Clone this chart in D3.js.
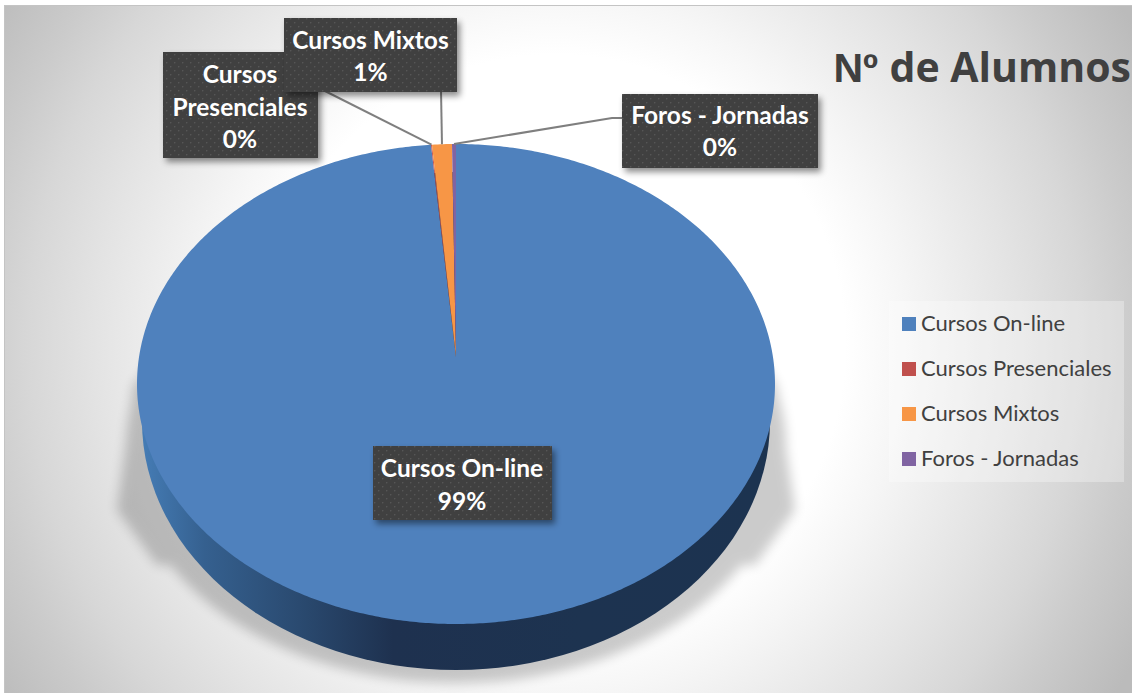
<!DOCTYPE html>
<html><head><meta charset="utf-8">
<script src="https://cdn.jsdelivr.net/npm/d3@7"></script>
<style>html,body{margin:0;padding:0;background:#fff}svg{display:block}text{font-family:Lato,"Open Sans",sans-serif}</style>
</head><body><div id="c"></div>
<script>
const categories = ["Cursos On-line","Cursos Presenciales","Cursos Mixtos","Foros - Jornadas"];
const alumnos = [1975,1,20,4];
const colors = ["#4f81bd","#c0504d","#f79646","#8064a2"];
const title = "de Alumnos";
const titlePrefix = "Nº ";

const W=1132,H=693;
const svg=d3.select("#c").append("svg").attr("width",W).attr("height",H);
const defs=svg.append("defs");
const bg=defs.append("radialGradient").attr("id","bg").attr("gradientUnits","userSpaceOnUse")
  .attr("cx",555).attr("cy",345).attr("r",660);
[[0,"#ffffff"],[.44,"#ffffff"],[.53,"#f6f6f6"],[.7,"#e3e3e3"],[.8,"#d7d7d7"],[.88,"#cbcbcb"],[1,"#bbbbbb"]].forEach(s=>bg.append("stop").attr("offset",s[0]).attr("stop-color",s[1]));
const side=defs.append("linearGradient").attr("id","side").attr("gradientUnits","userSpaceOnUse").attr("x1",142).attr("x2",770).attr("y1",0).attr("y2",0);
[[0,"#457cb5"],[.1,"#35608f"],[.25,"#2a4a70"],[.4,"#1e314f"],[.7,"#1d3350"],[1,"#1c3350"]].forEach(s=>side.append("stop").attr("offset",s[0]).attr("stop-color",s[1]));
const pat=defs.append("pattern").attr("id","dots").attr("patternUnits","userSpaceOnUse").attr("width",8).attr("height",8);
pat.append("rect").attr("width",8).attr("height",8).attr("fill","#3f3f3f");
pat.append("rect").attr("x",2).attr("y",2).attr("width",1.4).attr("height",1.4).attr("fill","#565656");
pat.append("rect").attr("x",6).attr("y",6).attr("width",1.4).attr("height",1.4).attr("fill","#565656");
const sh=defs.append("filter").attr("id","sh").attr("x","-20%").attr("y","-20%").attr("width","140%").attr("height","140%");
sh.append("feDropShadow").attr("dx",3).attr("dy",4).attr("stdDeviation",3).attr("flood-color","#000").attr("flood-opacity",.45);
const bl=defs.append("filter").attr("id","bl").attr("filterUnits","userSpaceOnUse").attr("x",0).attr("y",300).attr("width",W).attr("height",H-300);
bl.append("feGaussianBlur").attr("stdDeviation",6);

svg.append("rect").attr("x",4).attr("y",5).attr("width",W-4).attr("height",H-5).attr("fill","url(#bg)");
svg.append("path").attr("fill","none").attr("stroke","#c4c4c4").attr("d","M4.5,"+H+"V5.5H"+W);

const cx=456,cy=384,rx=319,ry=240,apexY=357;
const px=a=>cx+rx*Math.sin(a), py=a=>cy-ry*Math.cos(a);
const line=d3.line();

// ground shadow: wedge flaring from the pie's widest points, merged with an ellipse below
const shadow=svg.append("g").attr("filter","url(#bl)").attr("opacity",.2);
shadow.append("path").attr("d",line([[776,382],[795,510],[755,565],[157,565],[117,510],[134,382]])+"Z");
shadow.append("ellipse").attr("cx",cx).attr("cy",447).attr("rx",330).attr("ry",236);

// pie side: a narrower, lower ellipse behind the top face
svg.append("ellipse").attr("cx",cx).attr("cy",421).attr("rx",314).attr("ry",249).attr("fill","url(#side)");

// pie top
const arcs=d3.pie().sort(null)(alumnos);
svg.selectAll("path.slice").data(arcs).join("path").attr("class","slice")
  .attr("fill",(d,i)=>colors[i])
  .attr("d",d=>{
    const n=Math.max(2,Math.ceil((d.endAngle-d.startAngle)/.01));
    const pts=d3.range(n+1).map(k=>{const a=d.startAngle+(d.endAngle-d.startAngle)*k/n;return [px(a),py(a)];});
    return line([[cx,apexY],...pts])+"Z";
  });

// leader lines
const rimPt=i=>{const a=(arcs[i].startAngle+arcs[i].endAngle)/2;return [px(a),py(a)];};
const leaders=[[1,[[323,90]]],[2,[[441,90]]],[3,[[612,118],[622,118]]]];
svg.selectAll("path.leader").data(leaders).join("path").attr("class","leader")
  .attr("fill","none").attr("stroke","#7f7f7f").attr("stroke-width",2)
  .attr("d",d=>line([rimPt(d[0]),...d[1]]));

// data labels
const pct=d3.format(".0%"), total=d3.sum(alumnos);
const labels=[
 {i:1,x:163,y:52,w:155,h:106,lines:["Cursos","Presenciales"],ty:[83,116,148],ptx:240},
 {i:2,x:284,y:18,w:173,h:74,lines:["Cursos Mixtos"],ty:[49,81],ptx:370.5},
 {i:3,x:622,y:94,w:196,h:74,lines:["Foros - Jornadas"],ty:[124,156],ptx:720},
 {i:0,x:373,y:446,w:179,h:74,lines:["Cursos On-line"],ty:[477,510],ptx:462}
];
const lg=svg.selectAll("g.lab").data(labels).join("g").attr("class","lab");
lg.append("rect").attr("x",d=>d.x).attr("y",d=>d.y).attr("width",d=>d.w).attr("height",d=>d.h).attr("fill","url(#dots)").attr("filter","url(#sh)");
lg.each(function(d){
  const g=d3.select(this);
  [...d.lines,pct(alumnos[d.i]/total)].forEach((t,k)=>{
    g.append("text").attr("x",d.ptx).attr("y",d.ty[k]).attr("text-anchor","middle")
      .attr("font-size",24.5).attr("font-weight",700).attr("fill","#fff").text(t);
  });
});

// title
const tt=svg.append("text").attr("x",1131).attr("y",82).attr("text-anchor","end").attr("font-size",41).attr("font-weight",700).attr("fill","#404040").style("font-family","'Open Sans'");
tt.append("tspan").style("font-family","'Liberation Sans'").text(titlePrefix);
tt.append("tspan").text(title);

// legend
svg.append("rect").attr("x",889).attr("y",301).attr("width",235).attr("height",181).attr("fill","#fff").attr("opacity",.3);
const ly=d3.scalePoint().domain(categories).range([324,459]);
const leg=svg.selectAll("g.leg").data(categories).join("g").attr("class","leg").attr("transform",d=>`translate(0,${ly(d)})`);
leg.append("rect").attr("x",902).attr("y",-7).attr("width",14).attr("height",14).attr("fill",(d,i)=>colors[i]);
leg.append("text").attr("x",921).attr("y",7).attr("font-size",22).attr("fill","#404040").text(d=>d);
</script></body></html>
